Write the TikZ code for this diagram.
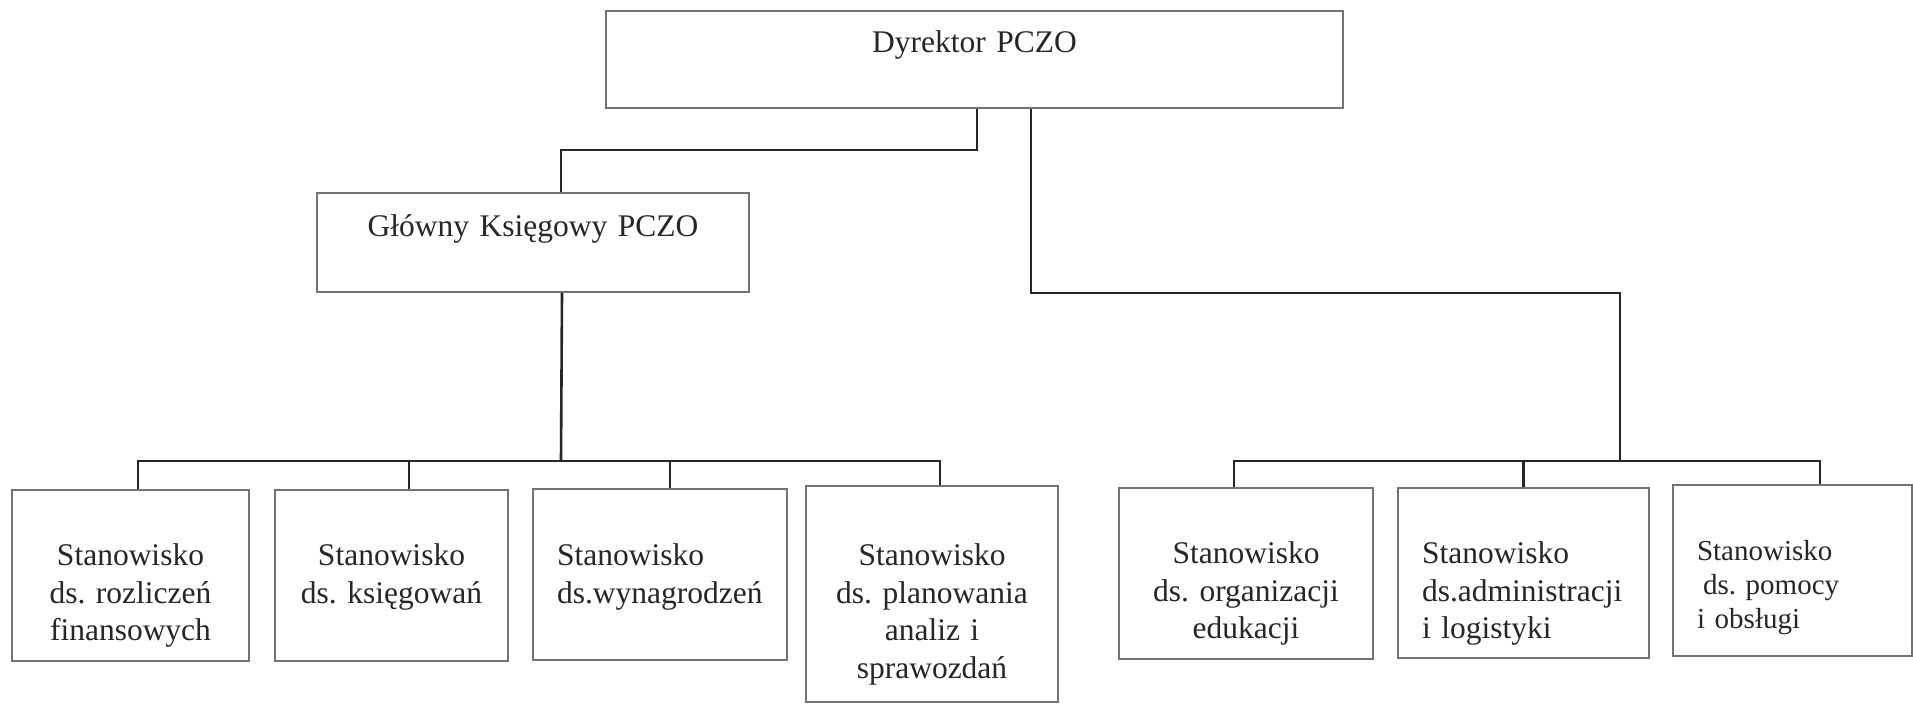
\documentclass[tikz,border=0pt]{standalone}
\usepackage{fontspec}
\setmainfont{Liberation Serif}
\usetikzlibrary{positioning}
\frenchspacing

\tikzset{
    post/.style={draw=black!55, line width=1pt, inner sep=0pt, anchor=north west,
        align=center, text=black!85, font=\fontsize{15.75}{18.75}\selectfont},
    postl/.style={post, align=left, inner xsep=12pt},
    link/.style={draw=black!85, line width=1.3pt},
}

\begin{document}
\begin{tikzpicture}[x=0.5pt, y=-0.5pt]
    \useasboundingbox (0,0) rectangle (1913,704);

    \node [post, text width=368.5pt, text height=21pt, text depth=27.5pt] (dyr) at (605,10) {Dyrektor PCZO};
    \node [post, text width=216pt, text height=22pt, text depth=27.5pt] (gk) at (316,192) {Główny Księgowy PCZO};

    % stanowiska pod glownym ksiegowym
    \node [post, text width=118.5pt, text height=38pt, text depth=47.5pt] (fin) at (11,489)
        {Stanowisko\\ds. rozliczeń\\finansowych};
    \node [post, text width=116.5pt, text height=38pt, text depth=47.5pt] (ksg) at (274,489)
        {Stanowisko\\ds. księgowań};
    \node [postl, text width=103pt, text height=38.5pt, text depth=47pt] (plc) at (532,488)
        {Stanowisko\\ds.wynagrodzeń};
    \node [post, text width=126pt, text height=40pt, text depth=68pt] (pln) at (805,485)
        {Stanowisko\\ds. planowania\\analiz i\\sprawozdań};

    % stanowiska pod dyrektorem
    \node [post, text width=127pt, text height=38pt, text depth=47.5pt] (edu) at (1118,487)
        {Stanowisko\\ds. organizacji\\edukacji};
    \node [postl, text width=101.5pt, text height=38pt, text depth=47pt] (adm) at (1397,487)
        {Stanowisko\\ds.administracji\\i logistyki};
    \node [postl, text width=95.5pt, text height=38pt, text depth=47.5pt,
        font=\fontsize{14.5}{17}\selectfont] (obs) at (1672,484)
        {Stanowisko\\\hspace{3pt}ds. pomocy\\i obsługi};

    \coordinate (lbus) at (561,461);
    \coordinate (rbus) at (1620,461);

    \draw [link] ([xshift=1.25pt]dyr.south) -- ++(0,41) -| ([xshift=14pt]gk.north);
    \draw [link] ([xshift=28.25pt]dyr.south) -- ++(0,184) -| (rbus);
    \draw [link] ([xshift=14.5pt]gk.south) -- (lbus);

    \foreach \n/\s in {fin/3.75, ksg/8.75, plc/5, pln/4} {
        \draw [link] (lbus) -| ([xshift=\s pt]\n.north);
    }
    \foreach \n/\s in {edu/-6, adm/0, obs/13.75} {
        \draw [link] (rbus) -| ([xshift=\s pt]\n.north);
    }
\end{tikzpicture}
\end{document}
